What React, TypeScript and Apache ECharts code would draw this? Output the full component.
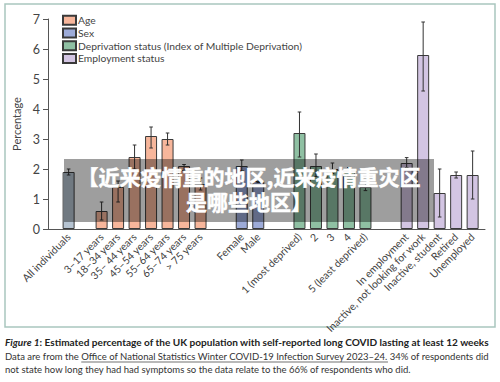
import React, { useEffect, useRef } from 'react';
import * as echarts from 'echarts';

const categories = [
  'All individuals',
  '3–17 years', '18–34 years', '35– 44 years', '45–54 years', '55–64 years', '65–74 years', '> 75 years',
  'Female', 'Male',
  '1 (most deprived)', '2', '3', '4', '5 (least deprived)',
  'In employment', 'Inactive, not looking for work', 'Inactive, student', 'Retired', 'Unemployed',
];
const groups = [
  'all',
  'age', 'age', 'age', 'age', 'age', 'age', 'age',
  'sex', 'sex',
  'dep', 'dep', 'dep', 'dep', 'dep',
  'emp', 'emp', 'emp', 'emp', 'emp',
];
const values = [1.9, 0.6, 1.4, 2.4, 3.1, 3.0, 2.1, 1.5, 2.1, 1.6, 3.2, 2.1, 2.0, 1.9, 1.4, 2.2, 5.8, 1.2, 1.8, 1.8];
const lower = [1.8, 0.3, 0.9, 2.0, 2.7, 2.8, 1.95, 1.3, 1.95, 1.55, 2.4, 1.75, 1.85, 1.75, 1.28, 2.05, 4.6, 0.4, 1.7, 1.0];
const upper = [2.0, 0.9, 1.6, 2.8, 3.4, 3.2, 2.15, 1.7, 2.3, 1.7, 3.9, 2.5, 2.2, 2.05, 1.54, 2.38, 6.9, 2.0, 1.9, 2.6];
const yTicks = [0, 1, 2, 3, 4, 5, 6, 7];

const seriesDefs = [
  { key: 'all', name: 'All individuals', color: '#b5c3d1', legend: false },
  { key: 'age', name: 'Age', color: '#f7b69b', legend: true },
  { key: 'sex', name: 'Sex', color: '#9dabd8', legend: true },
  { key: 'dep', name: 'Deprivation status (Index of Multiple Deprivation)', color: '#8fc0a3', legend: true },
  { key: 'emp', name: 'Employment status', color: '#d3c5e3', legend: true },
];

const captionTitleA = 'Figure 1';
const captionTitleB = ': Estimated percentage of the UK population with self-reported long COVID lasting at least 12 weeks';
const captionPre = 'Data are from the ';
const captionLink = 'Office of National Statistics Winter COVID-19 Infection Survey 2023–24.';
const captionPost = ' 34% of respondents did';
const captionLine3 = 'not state how long they had had symptoms so the data relate to the 66% of respondents who did.';
const overlayText = '【近来疫情重的地区,近来疫情重灾区\n是哪些地区】';

// layout: half-slot advance before each bar
const slotAdvance = [2, 4, 2, 2, 2, 2, 2, 2, 5, 2, 5, 2, 2, 2, 2, 5, 2, 2, 2, 2];
const totalSlots = 53;

const FONT = "Lato, 'Liberation Sans', sans-serif";

export default function App() {
  const ref = useRef<HTMLDivElement>(null);
  useEffect(() => {
    if (!ref.current) return;
    const chart = echarts.init(ref.current, undefined, { renderer: 'svg' });

    const cv = document.createElement('canvas');
    const ctx = cv.getContext('2d')!;
    const measure = (t: string, size: number, weight = 'normal', style = 'normal') => {
      ctx.font = `${style} ${weight} ${size}px ${FONT}`;
      return ctx.measureText(t).width;
    };
    const fit = (t: string, target: number, weight = 'normal') => 10 * target / measure(t, 10, weight);

    const legendSize = Math.min(11.5, Math.max(10.3, fit(seriesDefs[3].name, 198)));
    const titleSize = Math.min(11.5, 10 * 485 / (measure(captionTitleA, 10, 'bold', 'italic') + measure(captionTitleB, 10, 'bold')));
    const line2Size = Math.min(11.5, fit(captionPre + captionLink + captionPost, 485));
    const line3Size = line2Size;
    const preW = measure(captionPre, line2Size);
    const linkW = measure(captionLink, line2Size);
    const capX = 5;

    const pos: number[] = [];
    let acc = 0;
    slotAdvance.forEach((a) => { acc += a; pos.push(acc); });
    const axisCats: string[] = new Array(totalSlots).fill('');
    pos.forEach((p, i) => { axisCats[p] = categories[i]; });

    const series: any[] = seriesDefs.map((d) => {
      const data: any[] = new Array(totalSlots).fill('-');
      pos.forEach((p, i) => { if (groups[i] === d.key) data[p] = values[i]; });
      return {
        type: 'bar', name: d.name, stack: 'one', barWidth: 12, data,
        itemStyle: { color: d.color, borderColor: '#3a3a3a', borderWidth: 1 },
      };
    });
    series.push({
      type: 'custom', name: 'err', z: 5,
      data: pos.map((p, i) => [p, lower[i], upper[i]]),
      encode: { x: 0, y: [1, 2] },
      renderItem: (params: any, api: any) => {
        const x = api.value(0);
        const lo = api.coord([x, api.value(1)]);
        const hi = api.coord([x, api.value(2)]);
        const cap = 1.8;
        const st = { stroke: '#333', lineWidth: 1 };
        return {
          type: 'group', children: [
            { type: 'line', shape: { x1: lo[0], y1: lo[1], x2: hi[0], y2: hi[1] }, style: st },
            { type: 'line', shape: { x1: lo[0] - cap, y1: lo[1], x2: lo[0] + cap, y2: lo[1] }, style: st },
            { type: 'line', shape: { x1: hi[0] - cap, y1: hi[1], x2: hi[0] + cap, y2: hi[1] }, style: st },
          ],
        };
      },
    });

    chart.setOption({
      animation: false,
      grid: { left: 48, right: 15, top: 19, bottom: 153, containLabel: false },
      legend: {
        data: seriesDefs.filter((d) => d.legend).map((d) => d.name),
        orient: 'vertical', left: 62, top: 14, itemGap: 0, padding: 0,
        itemWidth: 13, itemHeight: 9, icon: 'rect',
        textStyle: { fontFamily: FONT, fontSize: legendSize, color: '#444', lineHeight: 12.7, padding: [0, 0, 0, -3] },
        selectedMode: false,
      },
      xAxis: {
        type: 'category', data: axisCats,
        axisLine: { lineStyle: { color: '#555', width: 1 } },
        axisTick: { show: false },
        axisLabel: { interval: 0, rotate: 45, fontFamily: FONT, fontSize: 10.5, color: '#444', margin: 6 },
      },
      yAxis: {
        type: 'value', min: 0, max: 7, interval: 1,
        name: 'Percentage', nameLocation: 'middle', nameGap: 25,
        nameTextStyle: { fontFamily: FONT, fontSize: 11, color: '#444' },
        axisLine: { show: true, lineStyle: { color: '#555' } },
        axisTick: { show: true, length: 5, lineStyle: { color: '#555' } },
        axisLabel: { fontFamily: FONT, fontSize: 12.5, color: '#444', margin: 8,
          formatter: (v: number) => (yTicks.includes(v) ? String(v) : '') },
        splitLine: { show: false },
      },
      series,
      graphic: [
        { type: 'rect', z: -1, shape: { x: 5, y: 4, width: 490, height: 323 },
          style: { fill: 'none', stroke: '#a9c6bf', lineWidth: 1.5 } },
        { type: 'rect', z: 100, shape: { x: 64, y: 159, width: 370, height: 63 },
          style: { fill: 'rgba(0,0,0,0.38)' } },
        { type: 'text', z: 101, x: 249, y: 163,
          style: { text: overlayText, fill: '#fff', fontSize: 21, stroke: '#fff', lineWidth: 0.5,
            fontWeight: 'bold', fontFamily: "'Noto Sans CJK SC', sans-serif", align: 'center',
            verticalAlign: 'top', lineHeight: 25 } },
        { type: 'text', x: capX, y: 342,
          style: {
            text: `{i|${captionTitleA}}{b|${captionTitleB}}`,
            verticalAlign: 'middle',
            rich: {
              i: { fontFamily: FONT, fontSize: titleSize, fontWeight: 'bold', fontStyle: 'italic', fill: '#222' },
              b: { fontFamily: FONT, fontSize: titleSize, fontWeight: 'bold', fill: '#222' },
            },
          } },
        { type: 'text', x: capX, y: 356,
          style: { text: captionPre + captionLink + captionPost, fontFamily: FONT, fontSize: line2Size,
            fill: '#333', verticalAlign: 'middle' } },
        { type: 'line', shape: { x1: capX + preW, y1: 362, x2: capX + preW + linkW, y2: 362 },
          style: { stroke: '#333', lineWidth: 0.7 } },
        { type: 'text', x: capX, y: 369,
          style: { text: captionLine3, fontFamily: FONT, fontSize: line3Size, fill: '#333', verticalAlign: 'middle' } },
      ],
    });
    return () => chart.dispose();
  }, []);
  return <div ref={ref} style={{ position: 'absolute', left: 0, top: 0, width: 500, height: 382, background: '#fff' }} />;
}
